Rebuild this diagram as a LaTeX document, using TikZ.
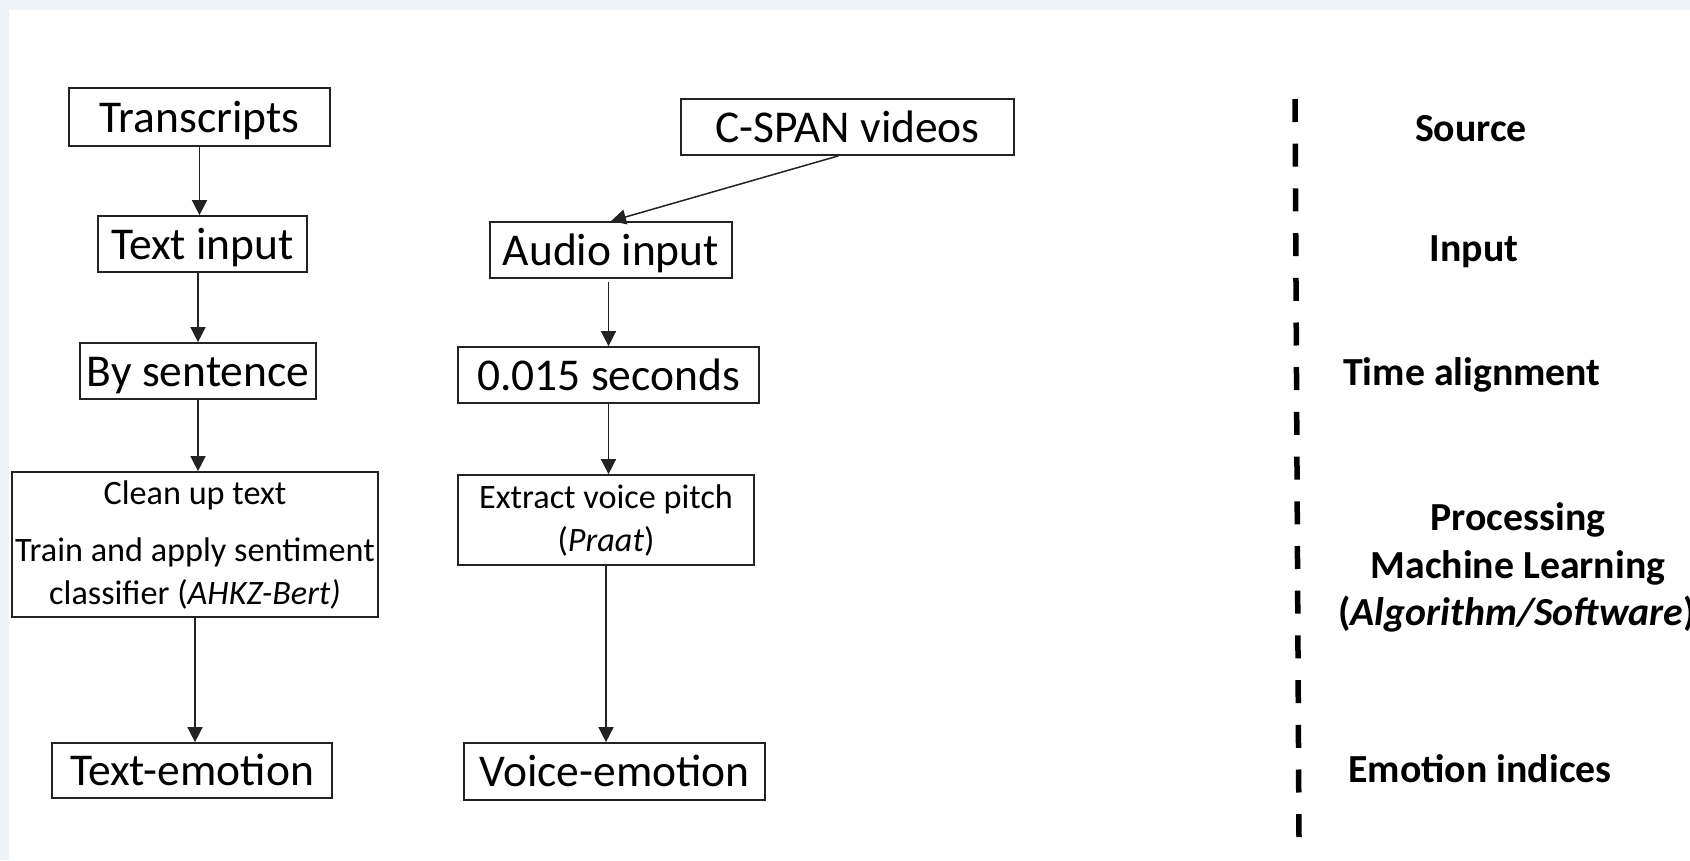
\documentclass[tikz,border=0pt]{standalone}
\usepackage{fontspec}
\setmainfont{Carlito}
\usetikzlibrary{arrows.meta,calc}
\definecolor{bgframe}{RGB}{238,243,248}
\definecolor{linec}{RGB}{35,35,35}
\begin{document}
\begin{tikzpicture}[x=1pt,y=-1pt,
  bigf/.style={font=\fontsize{45.5}{55}\selectfont},
  medf/.style={font=\fontsize{34.2}{43}\selectfont},
  box/.style={draw=linec, line width=1.7pt, fill=white, inner sep=0pt},
  one/.style={box, bigf, text height=34pt, text depth=4pt},
  multi/.style={box, medf, align=center},
  arr/.style={draw=linec, line width=1.5pt, -{Triangle[length=15pt,width=15pt]}},
  lab/.style={font=\fontsize{39.8}{46}\selectfont\bfseries, anchor=base},
  divider/.style={line width=5.5pt, dash pattern=on 23pt off 21.7pt}
]
\useasboundingbox (0,0) rectangle (1690,860);
\clip (0,0) rectangle (1690,860);
\fill[bgframe] (0,0) rectangle (1690,860);
\fill[white] (9,10) rectangle (1690,860);

% left column
\node[one, minimum width=261pt, minimum height=58pt] (tr) at (199.5,117) {Transcripts};
\node[one, minimum width=209pt, minimum height=56pt] (ti) at (202.5,244) {Text input};
\node[one, minimum width=236pt, minimum height=56pt] (bs) at (198,371) {By sentence};
\node[multi, minimum width=366pt, minimum height=145pt] (cu) at (195,544.5)
  {Clean up text\\[14pt]Train and apply sentiment\\classifier (\textit{AHKZ-Bert)}};
\node[one, minimum width=280pt, minimum height=55pt] (te) at (192,770.5) {Text-emotion};

% middle column
\node[one, minimum width=333pt, minimum height=56pt] (cs) at (847.5,127) {C-SPAN videos};
\node[one, minimum width=242pt, minimum height=56pt] (au) at (611,250) {Audio input};
\node[one, minimum width=301pt, minimum height=56pt] (ts) at (608.5,375) {0.015 seconds};
\node[multi, minimum width=296pt, minimum height=90pt] (ex) at (606,520)
  {Extract voice pitch\\(\textit{Praat})};
\node[one, minimum width=301pt, minimum height=57pt] (ve) at (614.5,771.5) {Voice-emotion};

% connectors
\draw[arr] (tr.south) -- (tr.south |- ti.north);
\draw[arr] (bs.north |- ti.south) -- (bs.north);
\draw[arr] (bs.south) -- (bs.south |- cu.north);
\draw[arr] (cu.south) -- (cu.south |- te.north);
\draw[arr] ($(cs.south)+(-9,0)$) -- (au.north);
\draw[arr] ($(au.south -| ts.north)+(0,3)$) -- (ts.north);
\draw[arr] (ts.south) -- (ts.south |- ex.north);
\draw[arr] (ex.south) -- (ex.south |- ve.north);

% divider
\draw[divider] (1295,99) -- (1299,838);

% stage labels
\node[lab] (src) at (1471,141) {Source};
\node[lab] (inp) at (1474,261) {Input};
\node[lab] (tal) at (1472,385) {Time alignment};
\node[lab] (proc) at (1518,530) {Processing};
\node[lab] (ml) at (1518,578) {Machine Learning};
\node[lab] (alg) at (1517,625) {(\textit{Algorithm/Software})};
\node[lab] (emo) at (1480,782) {Emotion indices};
\end{tikzpicture}
\end{document}
